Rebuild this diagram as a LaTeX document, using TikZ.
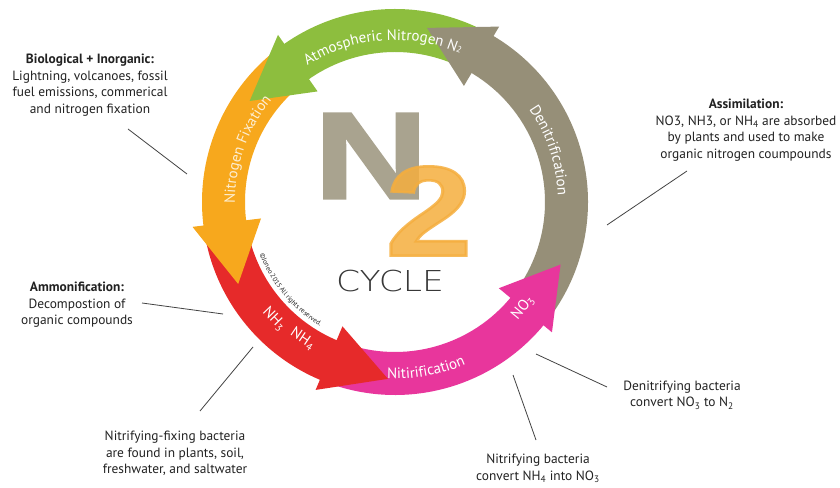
\documentclass[tikz,border=0pt]{standalone}
\usepackage{fontspec}
\setmainfont{PT Sans}
\newfontfamily\logofont{Liberation Sans}[BoldFeatures={FakeBold=2}]
\IfFontExistsTF{DejaVu Sans ExtraLight}
  {\newfontfamily\thinfont{DejaVu Sans ExtraLight}}
  {\newfontfamily\thinfont{DejaVu Sans}}
\usetikzlibrary{decorations.text}

\definecolor{cgreen}{HTML}{8DBE3E}
\definecolor{cgray}{HTML}{968F78}
\definecolor{corange}{HTML}{F7A81D}
\definecolor{cred}{HTML}{E62A2A}
\definecolor{cpink}{HTML}{E8369C}
\definecolor{clogoN}{HTML}{A9A38F}
\definecolor{clogotwo}{HTML}{F5AE3E}
\definecolor{cink}{HTML}{222222}

% ring geometry (centre is the scope origin)
\newcommand{\rin}{150}
\newcommand{\rout}{193}
% ring segment from angle #1 to #2 in colour #3
\newcommand{\ringband}[3]{%
  \fill[#3] (#1:\rout) arc[start angle=#1,end angle=#2,radius=\rout]
     -- (#2:\rin) arc[start angle=#2,end angle=#1,radius=\rin] -- cycle;}
% arrow head with base at angle #1 and tip at angle #2
\newcommand{\ringhead}[3]{%
  \fill[#3] (#1:204) -- (#2:177) -- (#1:135) -- cycle;}
\newcommand{\bandfont}{\fontsize{15}{15}\selectfont}
\newcommand{\bandsub}{\fontsize{9}{9}\selectfont}

\tikzset{
  label/.style={align=center,text=cink,font=\fontsize{13.4}{16.5}\selectfont,inner sep=0pt},
  leader/.style={draw=cink!85,line width=0.8pt},
  bandlabel/.style={text=white,font=\bandfont,inner sep=0pt},
}

\begin{document}
\begin{tikzpicture}[x=1pt,y=1pt]
\fill[white] (0,0) rectangle (840,487);
\useasboundingbox (0,0) rectangle (840,487);

\begin{scope}[shift={(395,285)}]
  % arcs of the cycle
  \ringband{62}{126}{cgreen}
  \ringband{-37}{60.3}{cgray}
  \ringband{128}{188}{corange}
  \ringband{190}{248}{cred}
  \ringband{250}{321.3}{cpink}
  % arrow heads on top of the following arc
  \ringhead{59.3}{79.6}{cgray}
  \ringhead{125}{145.2}{cgreen}
  \ringhead{187}{207.6}{corange}
  \ringhead{247.1}{267.7}{cred}
  \ringhead{320.3}{339.3}{cpink}

  % words along the arcs
  \path[decorate,decoration={text along path,text align=center,text color=white,
     text={|\bandfont|Atmospheric Nitrogen N|\bandsub|2}}]
     (134.5:162) arc[start angle=134.5,end angle=54.5,radius=162];
  \path[decorate,decoration={text along path,text align=center,text color=white,
     text={|\bandfont|Denitrification}}]
     (48.5:163) arc[start angle=48.5,end angle=-11.5,radius=163];
  \path[decorate,decoration={text along path,text align=center,text color=white!80!corange,
     text={|\bandfont|Nitrogen Fixation}}]
     (200.5:160) arc[start angle=200.5,end angle=120.5,radius=160];
  \path[decorate,decoration={text along path,text align=center,text color=white,
     text={|\bandfont|Nitirification}}]
     (240.5:177) arc[start angle=240.5,end angle=320.5,radius=177];
  \path[decorate,decoration={text along path,text align=center,text color=cink,
     text={|\fontsize{6.8}{7}\selectfont|©Joneo 2015 All rights reserved.}}]
     (180:145) arc[start angle=180,end angle=260,radius=145];

  \node[bandlabel,rotate=314] (nhthree) at (224:168) {NH\textsubscript{3}};
  \node[bandlabel,rotate=326] (nhfour) at (236:165) {NH\textsubscript{4}};
  \node[bandlabel,rotate=50.4] (nothree) at (320.4:166) {NO\textsubscript{3}};
\end{scope}

% central logo
\node[inner sep=0pt,text=clogoN,font=\logofont\bfseries\fontsize{123}{123}\selectfont,xscale=1.28]
  (bigN) at (371,331) {N};
\node[inner sep=0pt,text=clogotwo,text opacity=0.85,font=\logofont\bfseries\fontsize{128}{128}\selectfont,xscale=1.22]
  (bigtwo) at (429,276) {2};
\node[inner sep=0pt,text=cink!90,font=\thinfont\fontsize{28.8}{28.8}\selectfont,xscale=1.2]
  (cycle) at (390,205.5) {CYCLE};

% notes around the ring
\node[label] (fixnote) at (90,402) {\textbf{Biological + Inorganic:}\\Lightning, volcanoes, fossil\\fuel emissions, commerical\\and nitrogen fixation};
\node[label] (assimnote) at (746,357) {\textbf{Assimilation:}\\NO3, NH3, or NH\textsubscript{4} are absorbed\\by plants and used to make\\organic nitrogen coumpounds};
\node[label] (ammnote) at (77,182) {\textbf{Ammonification:}\\Decompostion of\\organic compounds};
\node[label] (bactnote) at (175,33.5) {Nitrifying-fixing bacteria\\are found in plants, soil,\\freshwater, and saltwater};
\node[label] (denitnote) at (682,92) {Denitrifying bacteria\\convert NO\textsubscript{3} to N\textsubscript{2}};
\node[label] (nitnote) at (538,18.5) {Nitrifying bacteria\\convert NH\textsubscript{4} into NO\textsubscript{3}};

% leader lines
\coordinate (fixA) at (128,358);   \coordinate (fixB) at (187,313);
\coordinate (asA) at (687,316);    \coordinate (asB) at (607,262);
\coordinate (amA) at (142,184);    \coordinate (amB) at (223,173);
\coordinate (baA) at (200,76);     \coordinate (baB) at (253,140);
\coordinate (deA) at (536,133);    \coordinate (deB) at (607,100);
\coordinate (niA) at (513,112);    \coordinate (niB) at (536,47);
\draw[leader] (fixA) -- (fixB);
\draw[leader] (asA) -- (asB);
\draw[leader] (amA) -- (amB);
\draw[leader] (baA) -- (baB);
\draw[leader] (deA) -- (deB);
\draw[leader] (niA) -- (niB);
\end{tikzpicture}
\end{document}
